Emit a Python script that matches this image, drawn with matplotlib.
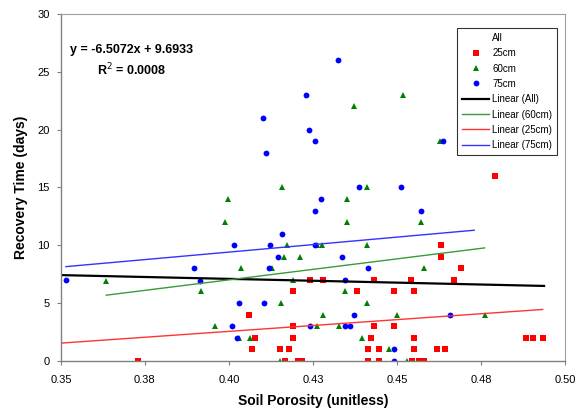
import numpy as np
import matplotlib
matplotlib.use('Agg')
import matplotlib.pyplot as plt
from matplotlib.lines import Line2D

plt.rcParams['font.family'] = ['Liberation Sans', 'DejaVu Sans']

# 25 cm series
red_x = [0.3728, 0.406, 0.4078, 0.4068, 0.4151, 0.4179, 0.4168, 0.4206, 0.4218, 0.419,
         0.419, 0.419, 0.424, 0.428, 0.4381, 0.4432, 0.4541, 0.467, 0.449, 0.4552,
         0.4432, 0.449, 0.4422, 0.4552, 0.4885, 0.4905, 0.4934, 0.4414, 0.4446, 0.4552,
         0.4619, 0.4642, 0.4414, 0.4446, 0.4545, 0.4565, 0.458, 0.463, 0.463, 0.4692,
         0.4793]
red_y = [0, 4, 2, 1, 1, 1, 0, 0, 0, 6,
         3, 2, 7, 7, 6, 7, 7, 7, 6, 6,
         3, 3, 2, 2, 2, 2, 2, 1, 1, 1,
         1, 1, 0, 0, 0, 0, 0, 10, 9, 8,
         16]

# 60 cm series
green_x = [0.3635, 0.3917, 0.3958, 0.3996, 0.3989, 0.4037, 0.4029, 0.4062, 0.4371, 0.4159,
           0.4411, 0.435, 0.435, 0.4173, 0.4263, 0.4277, 0.4411, 0.4165, 0.4213, 0.4127,
           0.4191, 0.4346, 0.4155, 0.428, 0.4412, 0.4263, 0.4327, 0.4396, 0.4152, 0.4519,
           0.4628, 0.4573, 0.4581, 0.4499, 0.4762, 0.4476, 0.4531]
green_y = [6.9, 6, 3, 14, 12, 8, 2, 2, 22, 15,
           15, 14, 12, 10, 10, 10, 10, 9, 9, 8,
           7, 6, 5, 4, 5, 3, 3, 2, 0, 23,
           19, 12, 8, 4, 4, 1, 0]

# 75 cm series
blue_x = [0.3514, 0.3897, 0.3915, 0.4016, 0.403, 0.4009, 0.4024, 0.4326, 0.4229, 0.410,
          0.4239, 0.4257, 0.4109, 0.4388, 0.4273, 0.4257, 0.4157, 0.4121, 0.4255, 0.4146,
          0.4337, 0.4118, 0.4345, 0.4103, 0.4371, 0.424, 0.4345, 0.436, 0.4638, 0.4512,
          0.4571, 0.4413, 0.4659, 0.449, 0.449]
blue_y = [7, 8, 6.9, 10, 5, 3, 2, 26, 23, 21,
          20, 19, 18, 15, 14, 13, 11, 10, 10, 9,
          9, 8, 7, 5, 4, 3, 3, 3, 19, 15,
          13, 8, 4, 1, 0]

# trend lines: slope, intercept, x range
trend_all = (-6.5072, 9.6933, 0.35, 0.4938)
trend_60 = (36.3, -7.515, 0.3635, 0.4761)
trend_25 = (20.3, -5.57, 0.35, 0.4934)
trend_75 = (25.9, -0.954, 0.3515, 0.473)

x_ticks = [0.35, 0.375, 0.40, 0.425, 0.45, 0.475, 0.50]
x_tick_labels = ['0.35', '0.38', '0.40', '0.43', '0.45', '0.48', '0.50']
y_ticks = [0, 5, 10, 15, 20, 25, 30]


def trend(ax, t, **kw):
    m, b, x0, x1 = t
    xs = np.array([x0, x1])
    return ax.plot(xs, m * xs + b, **kw)[0]


fig = plt.figure(figsize=(5.86, 4.11), dpi=100)
ax = fig.add_axes([0.104, 0.122, 0.86, 0.844])

ax.plot(red_x, red_y, ls='none', marker='s', ms=3.8, color='#ff0000', mew=0)
ax.plot(green_x, green_y, ls='none', marker='^', ms=4.8, color='#008000', mew=0)
ax.plot(blue_x, blue_y, ls='none', marker='o', ms=4.2, color='#0000ff', mew=0)

l_all = trend(ax, trend_all, color='black', lw=1.6)
l_60 = trend(ax, trend_60, color='#3a9a3a', lw=1.0)
l_25 = trend(ax, trend_25, color='#ff3333', lw=1.0)
l_75 = trend(ax, trend_75, color='#3333ff', lw=1.0)

ax.set_xlim(0.35, 0.50)
ax.set_ylim(0, 30)
ax.set_xticks(x_ticks)
ax.set_xticklabels(x_tick_labels)
ax.set_yticks(y_ticks)
ax.tick_params(direction='out', length=3, width=0.8, color='#808080', labelsize=8)
ax.tick_params(axis='x', pad=7)
ax.tick_params(axis='y', pad=5)
for s in ['top', 'right']:
    ax.spines[s].set_color('#a0a0a0')
    ax.spines[s].set_linewidth(0.8)
for s in ['left', 'bottom']:
    ax.spines[s].set_color('#808080')
    ax.spines[s].set_linewidth(1.0)

ax.set_xlabel('Soil Porosity (unitless)', fontsize=10, fontweight='bold')
ax.set_ylabel('Recovery Time (days)', fontsize=10, fontweight='bold')
ax.xaxis.set_label_coords(0.5, -0.095)
ax.yaxis.set_label_coords(-0.065, 0.5)

fig.text(0.225, 0.878, 'y = -6.5072x + 9.6933', fontsize=9, fontweight='bold', ha='center', va='center')
fig.text(0.225, 0.83, 'R$^2$ = 0.0008', fontsize=9, fontweight='bold', ha='center', va='center')

handles = [
    Line2D([], [], ls='none'),
    Line2D([], [], ls='none', marker='s', ms=3.8, color='#ff0000', mew=0),
    Line2D([], [], ls='none', marker='^', ms=4.8, color='#008000', mew=0),
    Line2D([], [], ls='none', marker='o', ms=4.2, color='#0000ff', mew=0),
    l_all, l_60, l_25, l_75,
]
labels = ['All', '25cm', '60cm', '75cm', 'Linear (All)', 'Linear (60cm)', 'Linear (25cm)', 'Linear (75cm)']
leg = fig.legend(handles, labels, loc='upper left', bbox_to_anchor=(0.78, 0.932),
                 bbox_transform=fig.transFigure, fontsize=7, frameon=True, fancybox=False,
                 borderaxespad=0, handlelength=2.8, handletextpad=0.3, labelspacing=0.55,
                 borderpad=0.5)
leg.get_frame().set_edgecolor('black')
leg.get_frame().set_linewidth(0.8)

fig.savefig('out.png', dpi=100)
